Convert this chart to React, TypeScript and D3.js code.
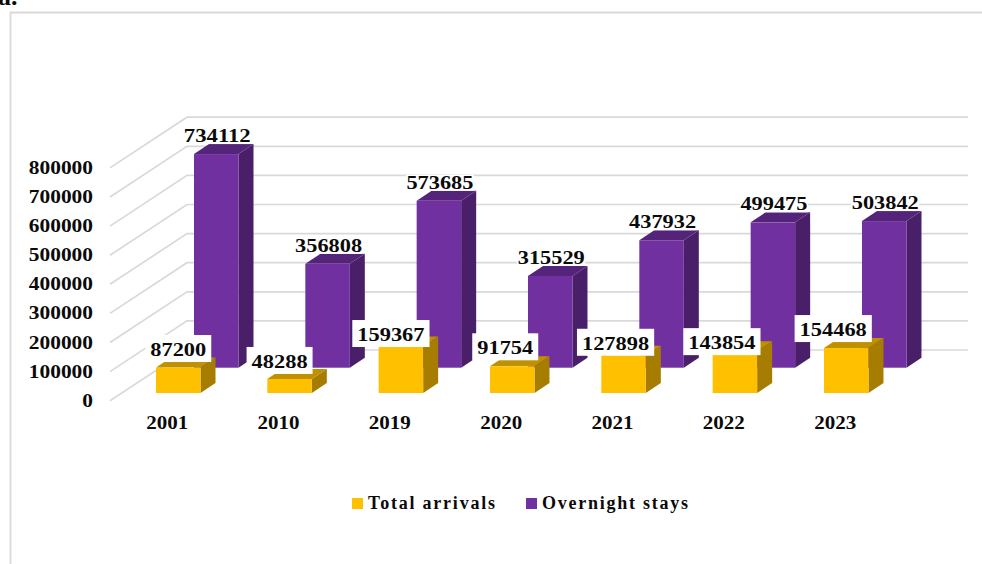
import React from "react";
import * as d3 from "d3";

const years = ["2001", "2010", "2019", "2020", "2021", "2022", "2023"];
const totalArrivals = [87200, 48288, 159367, 91754, 127898, 143854, 154468];
const overnightStays = [734112, 356808, 573685, 315529, 437932, 499475, 503842];
const ticks = [0, 100000, 200000, 300000, 400000, 500000, 600000, 700000, 800000];
const arrivalLabelDx = [0, -10, -10, -7, -8, -13, -13];
const arrivalLabelDy = [-12.6, -12, -6.6, -13, -7, -3, -13];

const FONT = "'Liberation Serif', serif";
const GRID = "#d9d9d9";

const x = d3.scaleBand<string>().domain(years).range([111.5, 111.5 + 7 * 111.33]);
const h = d3.scaleLinear().domain([0, 800000]).range([0, 232.8]);
const floorFront = 400.7;
const backDx = 77;
const backDy = -50.7;
const rightX = 968;
const barW = 44.5;
const depthX = 15;
const depthY = -10;

function T(p: any) {
  const { s, len, size = 18, adjust = "spacingAndGlyphs", ...rest } = p;
  return (
    <text fontFamily={FONT} fontWeight={700} fontSize={size} fill="#0a0a0a"
      textLength={len} lengthAdjust={adjust} {...rest}>{s}</text>
  );
}

function Bar({ left, base, height, front, side, top }: any) {
  const y = base - height;
  const r = left + barW;
  return (
    <g>
      <polygon points={`${r},${y} ${r + depthX},${y + depthY} ${r + depthX},${base + depthY} ${r},${base}`} fill={side} />
      <polygon points={`${left},${y} ${left + depthX},${y + depthY} ${r + depthX},${y + depthY} ${r},${y}`} fill={top} />
      <rect x={left} y={y} width={barW} height={height} fill={front} />
    </g>
  );
}

export default function App() {
  return (
    <svg width={982} height={564} style={{ position: "absolute", left: 0, top: 0, background: "#fff" }}>
      <text x={-2} y={5} fontFamily={FONT} fontWeight={700} fontSize={26} fill="#0a0a0a">a.</text>
      <path d="M10.5,564V12.5H982" fill="none" stroke={GRID} strokeWidth={1.8} />

      {ticks.map((t) => {
        const y = floorFront - h(t);
        return (
          <g key={t}>
            <path d={`M110,${y}L${110 + backDx},${y + backDy}H${rightX}`} fill="none" stroke={GRID} strokeWidth={1.7} />
            <T s={String(t)} x={93} y={y + 6} textAnchor="end" len={String(t).length * 10.7} />
          </g>
        );
      })}

      {years.map((yr, i) => (
        <Bar key={yr} left={x(yr)! + 82.5} base={367.7} height={h(overnightStays[i])}
          front="#7030a0" side="#481f68" top="#54247a" />
      ))}

      {years.map((yr, i) => {
        const cx = x(yr)! + 82.5 + barW / 2 + 1;
        const base = 367.7 - h(overnightStays[i]) - 12;
        const s = String(overnightStays[i]);
        return (
          <g key={yr}>
            <rect x={cx - 34} y={base - 14} width={68} height={16} fill="#fff" />
            <T s={s} x={cx} y={base} textAnchor="middle" len={67} size={19} />
          </g>
        );
      })}

      {years.map((yr, i) => (
        <Bar key={yr} left={x(yr)! + 44.5} base={393} height={h(totalArrivals[i])}
          front="#ffc000" side="#a67d00" top="#bf9000" />
      ))}

      {years.map((yr, i) => {
        const cx = x(yr)! + 44.5 + barW / 2 + arrivalLabelDx[i];
        const base = 393 - h(totalArrivals[i]) + arrivalLabelDy[i];
        const s = String(totalArrivals[i]);
        const w = s.length * 11.2;
        return (
          <g key={yr}>
            <rect x={cx - w / 2 - 5} y={base - 20} width={w + 10} height={27} fill="#fff" />
            <T s={s} x={cx} y={base + 1} textAnchor="middle" len={w} size={19} />
          </g>
        );
      })}

      {years.map((yr) => (
        <T key={yr} s={yr} x={x(yr)! + x.bandwidth() / 2} y={429} textAnchor="middle" len={42} />
      ))}

      <rect x={352} y={498} width={11} height={11} fill="#ffc000" />
      <T s="Total arrivals" x={368} y={509} len={127} adjust="spacing" size={18} />
      <rect x={526} y={498} width={11} height={11} fill="#7030a0" />
      <T s="Overnight stays" x={542} y={509} len={146} adjust="spacing" size={18} />
    </svg>
  );
}
